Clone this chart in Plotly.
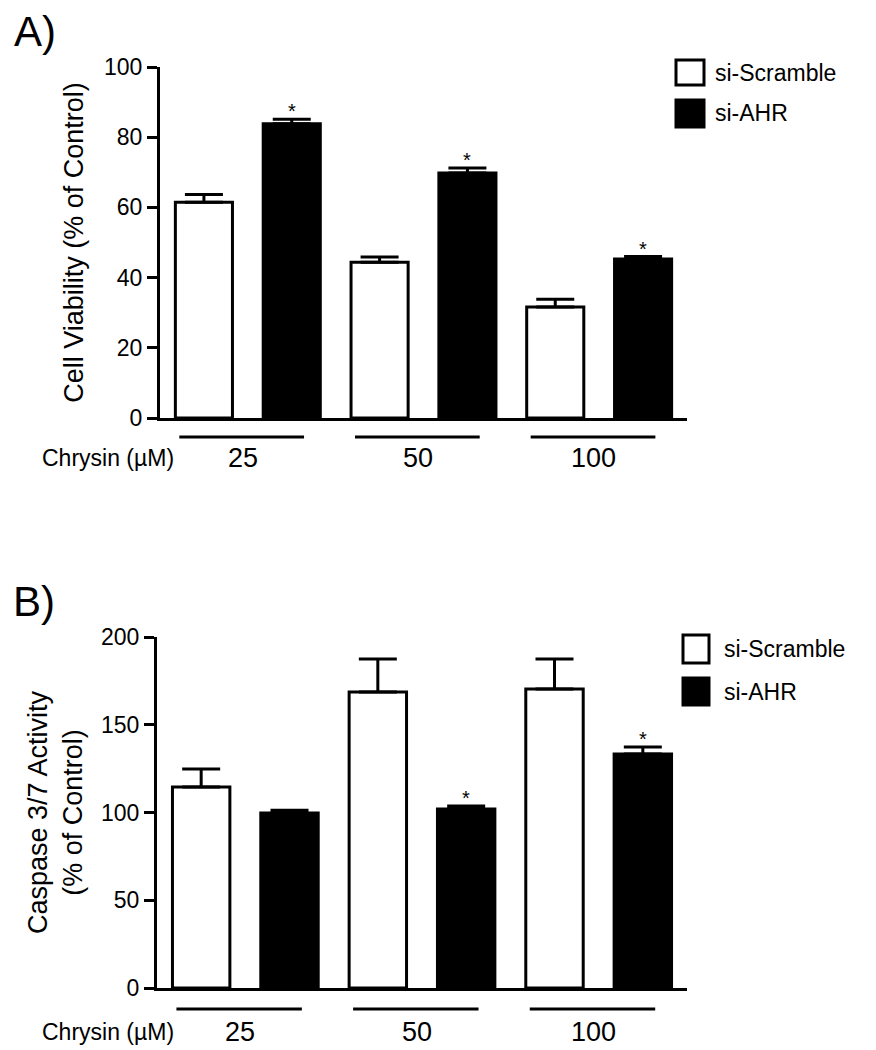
import plotly.graph_objects as go

# ---------------- data ----------------
categories = ["25", "50", "100"]          # Chrysin (µM)
series_names = ["si-Scramble", "si-AHR"]

viability_scramble = [61.5, 44.4, 31.6]
viability_scramble_err = [2.2, 1.5, 2.2]
viability_ahr = [83.8, 69.8, 45.3]
viability_ahr_err = [1.3, 1.4, 0.7]
viability_ahr_sig = [True, True, True]

caspase_scramble = [114.5, 168.7, 170.4]
caspase_scramble_err = [10.3, 18.8, 17.1]
caspase_ahr = [99.7, 102.0, 133.3]
caspase_ahr_err = [1.6, 1.7, 4.0]
caspase_ahr_sig = [False, True, True]

viability_ticks = [0, 20, 40, 60, 80, 100]
caspase_ticks = [0, 50, 100, 150, 200]

# ---------------- layout helpers ----------------
PAGE_MARGIN = 8                      # default body margin of the HTML page
W, H = 876 - PAGE_MARGIN, 1050 - PAGE_MARGIN
FONT = "Liberation Sans, Arial, Helvetica, sans-serif"


def px_x(x):
    return (x - PAGE_MARGIN) / W


def px_y(y):
    return 1 - (y - PAGE_MARGIN) / H


fig = go.Figure()

panels = [
    dict(xa="x", ya="y", xname="xaxis", yname="yaxis",
         scr=viability_scramble, scr_err=viability_scramble_err,
         ahr=viability_ahr, ahr_err=viability_ahr_err, sig=viability_ahr_sig,
         ymax=100, ticks=viability_ticks,
         xdom=[px_x(160), px_x(687)], ydom=[px_y(418), px_y(67)],
         title="Cell Viability (% of Control)", standoff=13, letter="A)", letter_pos=(35, 32),
         label_y=458, under=-0.054, legend_box=(676, 704, 60, 85, 100, 127), legend_text_x=713),
    dict(xa="x2", ya="y2", xname="xaxis2", yname="yaxis2",
         scr=caspase_scramble, scr_err=caspase_scramble_err,
         ahr=caspase_ahr, ahr_err=caspase_ahr_err, sig=caspase_ahr_sig,
         ymax=200, ticks=caspase_ticks,
         xdom=[px_x(157), px_x(687)], ydom=[px_y(988), px_y(637)],
         title="Caspase 3/7 Activity<br>(% of Control)", standoff=11, letter="B)", letter_pos=(34, 601),
         label_y=1032, under=-0.06, legend_box=(683, 709, 635, 663, 678, 705), legend_text_x=722),
]

shapes = []
annotations = []

for p in panels:
    fig.add_trace(go.Bar(
        x=categories, y=p["scr"], name=series_names[0],
        marker=dict(color="white", line=dict(color="black", width=3)),
        error_y=dict(type="data", array=p["scr_err"], arrayminus=[0] * len(categories),
                     symmetric=False, color="black", thickness=3, width=19),
        xaxis=p["xa"], yaxis=p["ya"], showlegend=False,
    ))
    fig.add_trace(go.Bar(
        x=categories, y=p["ahr"], name=series_names[1],
        marker=dict(color="black", line=dict(color="black", width=3)),
        error_y=dict(type="data", array=p["ahr_err"], arrayminus=[0] * len(categories),
                     symmetric=False, color="black", thickness=3, width=19),
        xaxis=p["xa"], yaxis=p["ya"], showlegend=False,
    ))

    fig.layout[p["xname"]] = dict(
        domain=p["xdom"], anchor=p["ya"], type="category", range=[-0.5, 2.5],
        showline=True, linewidth=3, linecolor="black", ticks="",
        showticklabels=False, showgrid=False, zeroline=False, automargin=False,
    )
    fig.layout[p["yname"]] = dict(
        domain=p["ydom"], anchor=p["xa"], range=[0, p["ymax"]],
        tickvals=p["ticks"], ticks="outside", ticklen=10, tickwidth=3, tickcolor="black",
        showline=True, linewidth=3, linecolor="black", showgrid=False, zeroline=False,
        automargin=False,
        tickfont=dict(family=FONT, size=23, color="black"),
        title=dict(text=p["title"], font=dict(family=FONT, size=27, color="black"),
                   standoff=p["standoff"]),
    )

    xref = p["xa"]
    ydom_ref = p["ya"] + " domain"
    for i, cat in enumerate(categories):
        # group underline
        shapes.append(dict(type="line", xref=xref, yref=ydom_ref,
                           x0=i - 0.39, x1=i + 0.32, y0=p["under"], y1=p["under"],
                           line=dict(color="black", width=3)))
        # category label
        annotations.append(dict(text=cat, xref=xref, x=i - 0.03, yref="paper",
                                y=px_y(p["label_y"]), xanchor="center", yanchor="middle",
                                showarrow=False, font=dict(family=FONT, size=27, color="black")))
        # significance star
        if p["sig"][i]:
            annotations.append(dict(text="*", xref=xref, x=i + 0.25, yref=p["ya"],
                                    y=p["ahr"][i] + p["ahr_err"][i], yanchor="middle",
                                    yshift=8, showarrow=False,
                                    font=dict(family=FONT, size=20, color="black")))

    annotations.append(dict(text="Chrysin (µM)", xref="paper", x=px_x(176), xanchor="right",
                            yref="paper", y=px_y(p["label_y"]), yanchor="middle",
                            showarrow=False, font=dict(family=FONT, size=23, color="black")))
    lx, ly = p["letter_pos"]
    annotations.append(dict(text=p["letter"], xref="paper", x=px_x(lx), xanchor="center",
                            yref="paper", y=px_y(ly), yanchor="middle",
                            showarrow=False, font=dict(family=FONT, size=42, color="black")))

    # legend (drawn manually to get the large square swatches)
    bx0, bx1, a0, a1, b0, b1 = p["legend_box"]
    for (yy0, yy1), fill, name in zip([(a0, a1), (b0, b1)], ["white", "black"], series_names):
        shapes.append(dict(type="rect", xref="paper", yref="paper",
                           x0=px_x(bx0), x1=px_x(bx1), y0=px_y(yy1), y1=px_y(yy0),
                           fillcolor=fill, line=dict(color="black", width=3)))
        annotations.append(dict(text=name, xref="paper", x=px_x(p["legend_text_x"]), xanchor="left",
                                yref="paper", y=px_y((yy0 + yy1) / 2), yanchor="middle",
                                showarrow=False, font=dict(family=FONT, size=23, color="black")))

fig.update_layout(
    template="none",
    width=W, height=H,
    margin=dict(l=0, r=0, t=0, b=0, autoexpand=False),
    paper_bgcolor="white", plot_bgcolor="white",
    barmode="group", bargap=0, bargroupgap=0.35,
    font=dict(family=FONT, color="black"),
    shapes=shapes, annotations=annotations,
    showlegend=False,
)

fig.write_html("out.html")
